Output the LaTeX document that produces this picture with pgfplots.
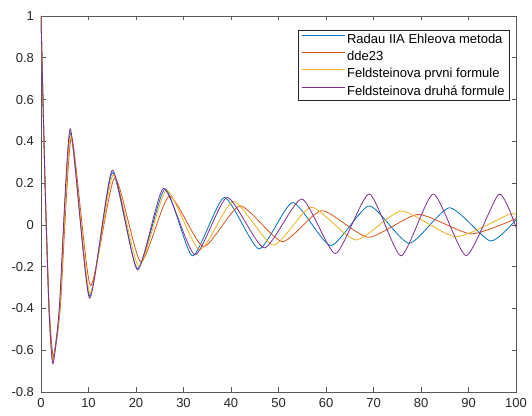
\documentclass[border=0pt]{standalone}
\usepackage{fontspec}
\setmainfont{Liberation Sans}
\usepackage{pgfplots}
\pgfplotsset{compat=1.18}
\definecolor{mblue}{rgb}{0,0.447,0.741}
\definecolor{morange}{rgb}{0.85,0.325,0.098}
\definecolor{myellow}{rgb}{0.929,0.694,0.125}
\definecolor{mpurple}{rgb}{0.494,0.184,0.556}
\begin{document}
\fontsize{13bp}{15bp}\selectfont
\begin{tikzpicture}
\path[use as bounding box] (-41bp,-24bp) rectangle (491bp,392bp);
\begin{axis}[
  at={(0,0)}, anchor=south west,
  scale only axis, width=475bp, height=376bp,
  xmin=0, xmax=100, ymin=-0.8, ymax=1,
  xtick={0,10,20,30,40,50,60,70,80,90,100},
  xticklabels={0,10,20,30,40,50,60,70,80,90,100},
  ytick={-0.8,-0.6,-0.4,-0.2,0,0.2,0.4,0.6,0.8,1},
  yticklabels={-0.8,-0.6,-0.4,-0.2,0,0.2,0.4,0.6,0.8,1},
  tick align=inside, major tick length=4.5bp,
  axis line style={black!65, line width=0.6bp},
  tick style={black!65, line width=0.6bp},
  tick label style={font=\fontsize{13bp}{15bp}\selectfont, text=black!85},
  xticklabel style={yshift=-2bp},
  yticklabel style={xshift=-2.5bp},
  legend cell align=left,
  legend image code/.code={\path (0bp,0bp); \draw[#1, line width=0.8bp] (0bp,4.3bp) -- (43bp,4.3bp);},
  legend style={at={(axis description cs:0.987,0.963)}, anchor=north east,
    draw=black!85, inner xsep=3bp, inner ysep=1.5bp,
    font=\fontsize{13bp}{15bp}\selectfont, row sep=2bp},
]
\addplot[mblue, line width=0.8bp, no marks, smooth, tension=0.36] coordinates {
(0,1) (0.85,0.2) (1.68,-0.4) (2.45,-0.645) (3.9,-0.4) (6.2,0.44) (10.2,-0.34)
(15.0,0.25) (20.3,-0.21) (26.1,0.172) (31.9,-0.148) (38.6,0.131) (45.9,-0.115)
(53.0,0.107) (61.0,-0.099) (69.1,0.091) (77.5,-0.088) (86.0,0.082) (94.6,-0.077) (100,0.025)};
\addlegendentry{Radau IIA Ehleova metoda}
\addplot[morange, line width=0.8bp, no marks, smooth, tension=0.36] coordinates {
(0,1) (0.85,0.2) (1.7,-0.38) (2.6,-0.63) (4.05,-0.4) (6.4,0.42) (10.4,-0.29)
(15.5,0.225) (21.0,-0.177) (27.0,0.137) (34.2,-0.104) (41.9,0.091) (50.8,-0.08)
(59.1,0.068) (68.9,-0.059) (79.4,0.05) (90.5,-0.043) (100,0.03)};
\addlegendentry{dde23}
\addplot[myellow, line width=0.8bp, no marks, smooth, tension=0.36] coordinates {
(0,1) (0.85,0.2) (1.68,-0.4) (2.5,-0.65) (3.95,-0.4) (6.25,0.43) (10.3,-0.33)
(15.2,0.24) (20.6,-0.2) (26.4,0.165) (33.4,-0.12) (40.5,0.112) (48.9,-0.097)
(56.9,0.084) (66.3,-0.072) (75.9,0.066) (87.3,-0.057) (98.5,0.05) (100,0.048)};
\addlegendentry{Feldsteinova prvni formule}
\addplot[mpurple, line width=0.8bp, no marks, smooth, tension=0.36] coordinates {
(0,1) (0.85,0.2) (1.68,-0.4) (2.5,-0.665) (3.85,-0.4) (6.15,0.46) (10.2,-0.35)
(15.0,0.262) (20.3,-0.215) (25.8,0.175) (32.4,-0.143) (39.2,0.131) (47.0,-0.11)
(54.9,0.124) (62.0,-0.137) (69.1,0.148) (75.8,-0.148) (82.6,0.148) (89.5,-0.147)
(96.4,0.147) (100,-0.012)};
\addlegendentry{Feldsteinova druhá formule}
\end{axis}
\end{tikzpicture}
\end{document}
